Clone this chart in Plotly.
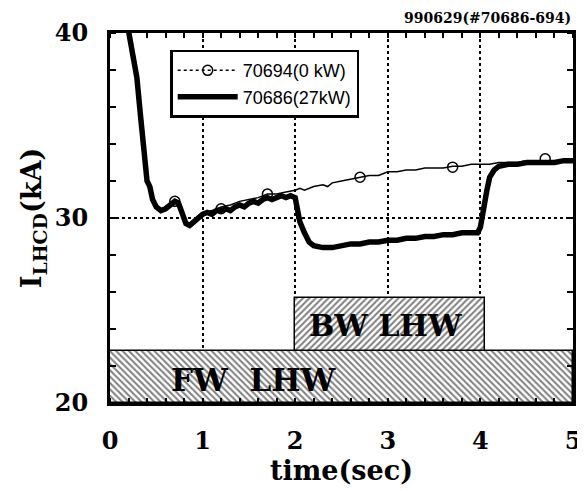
import plotly.graph_objects as go

# ---- data ----
t_27kw = [0.15, 0.2, 0.25, 0.29, 0.33, 0.37, 0.40, 0.43, 0.46, 0.50, 0.55, 0.60, 0.65, 0.70, 0.74,
          0.78, 0.82, 0.86, 0.90, 0.95, 1.00, 1.05, 1.10, 1.15, 1.20, 1.25, 1.30, 1.35, 1.40, 1.45,
          1.50, 1.55, 1.60, 1.65, 1.70, 1.75, 1.80, 1.85, 1.90, 1.95, 2.00, 2.02, 2.05, 2.10, 2.15,
          2.20, 2.30, 2.40, 2.50, 2.60, 2.70, 2.80, 2.90, 3.00, 3.10, 3.20, 3.30, 3.40, 3.50, 3.60,
          3.70, 3.80, 3.90, 3.97, 4.00, 4.03, 4.07, 4.10, 4.15, 4.20, 4.30, 4.40, 4.50, 4.60, 4.70,
          4.80, 4.90, 5.00]
i_27kw = [41.5, 40.0, 38.8, 37.6, 35.5, 33.5, 32.0, 31.7, 31.0, 30.6, 30.4, 30.5, 30.7, 30.9, 30.8,
          30.2, 29.7, 29.6, 29.8, 30.0, 30.2, 30.3, 30.2, 30.4, 30.4, 30.5, 30.4, 30.6, 30.7, 30.6,
          30.8, 30.9, 30.8, 31.0, 31.1, 31.0, 31.1, 31.2, 31.1, 31.2, 31.1, 30.5, 29.8, 29.2, 28.7,
          28.5, 28.4, 28.4, 28.5, 28.6, 28.6, 28.7, 28.7, 28.8, 28.8, 28.9, 28.9, 29.0, 29.0, 29.1,
          29.1, 29.2, 29.2, 29.2, 29.5, 30.5, 31.5, 32.2, 32.6, 32.8, 32.9, 32.9, 33.0, 33.0, 33.0,
          33.0, 33.1, 33.1]

t_0kw = [0.15, 0.2, 0.25, 0.29, 0.33, 0.37, 0.40, 0.43, 0.46, 0.50, 0.55, 0.60, 0.65, 0.70, 0.74,
         0.78, 0.82, 0.86, 0.90, 0.95, 1.00, 1.10, 1.20, 1.30, 1.40, 1.50, 1.60, 1.70, 1.80, 1.90,
         2.00, 2.05, 2.10, 2.20, 2.30, 2.35, 2.40, 2.50, 2.60, 2.70, 2.80, 2.90, 3.00, 3.10, 3.20,
         3.30, 3.40, 3.50, 3.60, 3.70, 3.80, 3.90, 4.00, 4.10, 4.20, 4.30, 4.40, 4.50, 4.60, 4.70,
         4.80, 4.90, 5.00]
i_0kw = [41.5, 40.0, 38.8, 37.6, 35.5, 33.5, 32.0, 31.7, 31.0, 30.7, 30.5, 30.6, 30.8, 31.0, 30.9,
         30.3, 29.8, 29.7, 29.9, 30.1, 30.3, 30.4, 30.6, 30.7, 30.9, 31.0, 31.1, 31.3, 31.3, 31.4,
         31.5, 31.6, 31.5, 31.7, 31.8, 31.7, 31.9, 32.0, 32.1, 32.2, 32.3, 32.3, 32.5, 32.5, 32.6,
         32.6, 32.7, 32.7, 32.7, 32.8, 32.8, 32.9, 32.9, 32.9, 33.0, 33.0, 33.0, 33.1, 33.0, 33.1,
         33.1, 33.1, 33.1]

t_circles = [0.70, 1.20, 1.70, 2.70, 3.70, 4.70]
i_circles = [30.9, 30.5, 31.3, 32.2, 32.75, 33.2]

band_labels = ["FW  LHW", "BW LHW"]
band_start = [0.0, 2.0]
band_end = [5.0, 4.05]
band_low = [20.0, 22.8]
band_high = [22.8, 25.7]
band_hatch = ["\\", "/"]
band_text_x = [1.55, 2.98]
band_text_y = [21.25, 24.2]
band_text_size = [31, 30]

title_text = "990629(#70686-694)"
legend_names = ["70694(0 kW)", "70686(27kW)"]

SERIF = "DejaVu Serif"
NARROW = "Liberation Sans Narrow, Arial Narrow, Liberation Sans"

fig = go.Figure()

# hatched bands (bars)
for i in range(len(band_labels)):
    fig.add_trace(go.Bar(
        x=[(band_start[i] + band_end[i]) / 2], y=[band_high[i] - band_low[i]], base=[band_low[i]],
        width=[band_end[i] - band_start[i]], showlegend=False, hoverinfo="skip",
        marker=dict(color="white", line=dict(color="black", width=1.5),
                    pattern=dict(shape=band_hatch[i], fgcolor="black", bgcolor="white",
                                 size=4.5, solidity=0.45, fillmode="overlay")),
    ))

# 0 kW shot: thin line + circles
fig.add_trace(go.Scatter(x=t_0kw, y=i_0kw, mode="lines", line=dict(color="black", width=1.5),
                         showlegend=False))
fig.add_trace(go.Scatter(x=t_circles, y=i_circles, mode="markers", showlegend=False,
                         marker=dict(symbol="circle-open", size=10, color="black",
                                     line=dict(width=1.5, color="black"))))
# 27 kW shot: thick line
fig.add_trace(go.Scatter(x=t_27kw, y=i_27kw, mode="lines", line=dict(color="black", width=5.5),
                         showlegend=False))

# legend entries
fig.add_trace(go.Scatter(x=[None], y=[None], mode="lines+markers", name=legend_names[0],
                         line=dict(color="black", width=1.5, dash="dot"),
                         marker=dict(symbol="circle-open", size=10, color="black",
                                     line=dict(width=1.5))))
fig.add_trace(go.Scatter(x=[None], y=[None], mode="lines", name=legend_names[1],
                         line=dict(color="black", width=5.5)))

for i in range(len(band_labels)):
    fig.add_annotation(x=band_text_x[i], y=band_text_y[i], text=band_labels[i], showarrow=False,
                       font=dict(family=SERIF, size=band_text_size[i], color="black", weight="bold"))

fig.add_annotation(xref="paper", yref="paper", x=1.0, y=1.0, yshift=15, xanchor="right", yanchor="middle",
                   text=title_text, showarrow=False,
                   font=dict(family=SERIF, size=14, color="black", weight="bold"))

# page body has an 8px default margin, so the figure is sized to fit the 585x491 window
fig.update_layout(
    width=577, height=483,
    margin=dict(l=102, r=12, t=25, b=88, autoexpand=False),
    paper_bgcolor="white", plot_bgcolor="white",
    barmode="overlay", bargap=0,
    showlegend=True,
    legend=dict(x=0.13, y=0.955, xanchor="left", yanchor="top",
                bordercolor="black", borderwidth=2.5, bgcolor="white",
                font=dict(family=NARROW, size=18, color="black"),
                itemwidth=60, tracegroupgap=0),
    xaxis=dict(range=[0, 5], tickvals=[0, 1, 2, 3, 4, 5], showgrid=True, griddash="dot",
               gridcolor="black", gridwidth=2, zeroline=False, automargin=False,
               showline=True, linecolor="black", linewidth=3, mirror="allticks",
               ticks="", ticklabelstandoff=14,
               tickfont=dict(family=SERIF, size=24, color="black", weight="bold"),
               minor=dict(ticks="inside", dtick=0.2, ticklen=5, tickwidth=2, tickcolor="black",
                          showgrid=False),
               title=dict(text="time(sec)", standoff=0,
                          font=dict(family=SERIF, size=27, color="black", weight="bold"))),
    yaxis=dict(range=[20, 40], tickvals=[20, 30, 40], showgrid=True, griddash="dot",
               gridcolor="black", gridwidth=2, zeroline=False, automargin=False,
               showline=True, linecolor="black", linewidth=3, mirror="allticks",
               ticks="", ticklabelstandoff=14,
               tickfont=dict(family=SERIF, size=24, color="black", weight="bold"),
               minor=dict(ticks="inside", dtick=2, ticklen=6, tickwidth=2, tickcolor="black",
                          showgrid=False),
               title=dict(text="I<sub>LHCD</sub>(kA)", standoff=6,
                          font=dict(family=SERIF, size=27, color="black", weight="bold"))),
)

fig.write_html("out.html")
